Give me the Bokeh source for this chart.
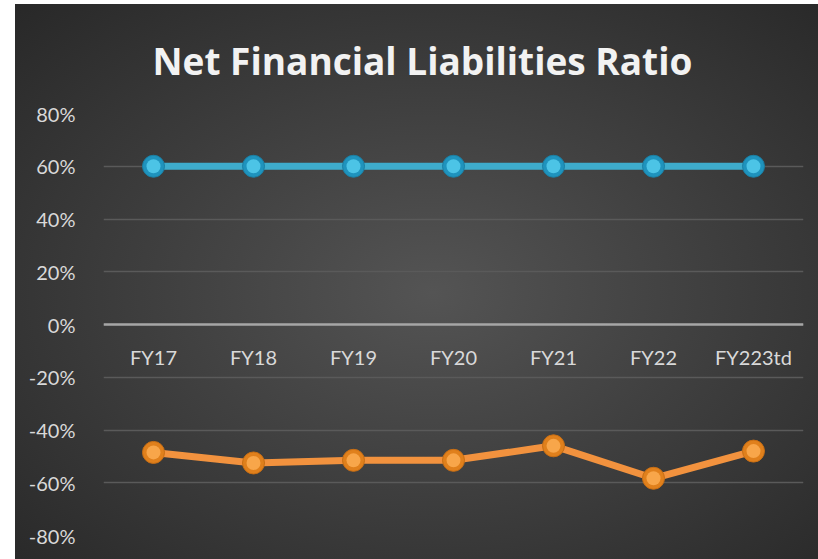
from bokeh.plotting import figure
from bokeh.models import ColumnDataSource, FixedTicker, PrintfTickFormatter, Span, Title
from bokeh.core.properties import value
from bokeh.embed import file_html
from bokeh.resources import INLINE

categories = ["FY17", "FY18", "FY19", "FY20", "FY21", "FY22", "FY223td"]
series_blue = [60, 60, 60, 60, 60, 60, 60]
series_orange = [-48.5, -52.5, -51.5, -51.5, -46.0, -58.3, -48.0]
y_ticks = [-80, -60, -40, -20, 0, 20, 40, 60, 80]
title_text = "Net Financial Liabilities Ratio"

FONT = "Lato"
LABEL_COLOR = "#d9d9d9"

p = figure(width=803, height=555, x_range=categories, y_range=(-80, 80),
           output_backend="svg", toolbar_location=None, x_axis_location=None,
           min_border_left=88, min_border_right=15, min_border_top=105, min_border_bottom=24)
p.styles = {"background": "radial-gradient(ellipse at 52% 52%, #545454 0%, #404040 45%, #282828 100%)",
            "margin-left": "15px", "margin-top": "4px"}
p.border_fill_alpha = 0
p.background_fill_alpha = 0
p.outline_line_color = None

p.title = Title(text=title_text, align="left", offset=49, standoff=56, text_font="Open Sans",
                text_font_size="37px", text_font_style="bold", text_color="#f2f2f2")

p.xgrid.grid_line_color = None
p.ygrid.grid_line_color = "#5a5a5a"
p.ygrid.grid_line_width = 1.5

ax = p.yaxis[0]
ax.ticker = FixedTicker(ticks=y_ticks)
ax.formatter = PrintfTickFormatter(format="%d%%")
ax.axis_line_color = None
ax.major_tick_line_color = None
ax.minor_tick_line_color = None
ax.major_label_standoff = 22
ax.major_label_text_font = FONT
ax.major_label_text_font_size = "20px"
ax.major_label_text_color = LABEL_COLOR

p.add_layout(Span(location=0, dimension="width", line_color="#a6a6a6", line_width=2.5))

src = ColumnDataSource(dict(cat=categories, blue=series_blue, orange=series_orange,
                            zero=[0] * len(categories)))

p.text(x="cat", y="zero", text="cat", source=src, y_offset=32, text_align="center",
       text_baseline="middle", text_font=value(FONT), text_font_size="20px", text_color=LABEL_COLOR)

p.line(x="cat", y="blue", source=src, line_width=7, line_color="#3eaccc")
p.scatter(x="cat", y="blue", source=src, size=22, fill_color="#1f93bd", line_color="#1b7fa3", line_width=1)
p.scatter(x="cat", y="blue", source=src, size=14, fill_color="#4cc4e6", line_color=None)

p.line(x="cat", y="orange", source=src, line_width=7, line_color="#f2923e")
p.scatter(x="cat", y="orange", source=src, size=22, fill_color="#e0801c", line_color="#c86e14", line_width=1)
p.scatter(x="cat", y="orange", source=src, size=14, fill_color="#f8a64a", line_color=None)

open("out.html", "w").write(file_html(p, INLINE))
